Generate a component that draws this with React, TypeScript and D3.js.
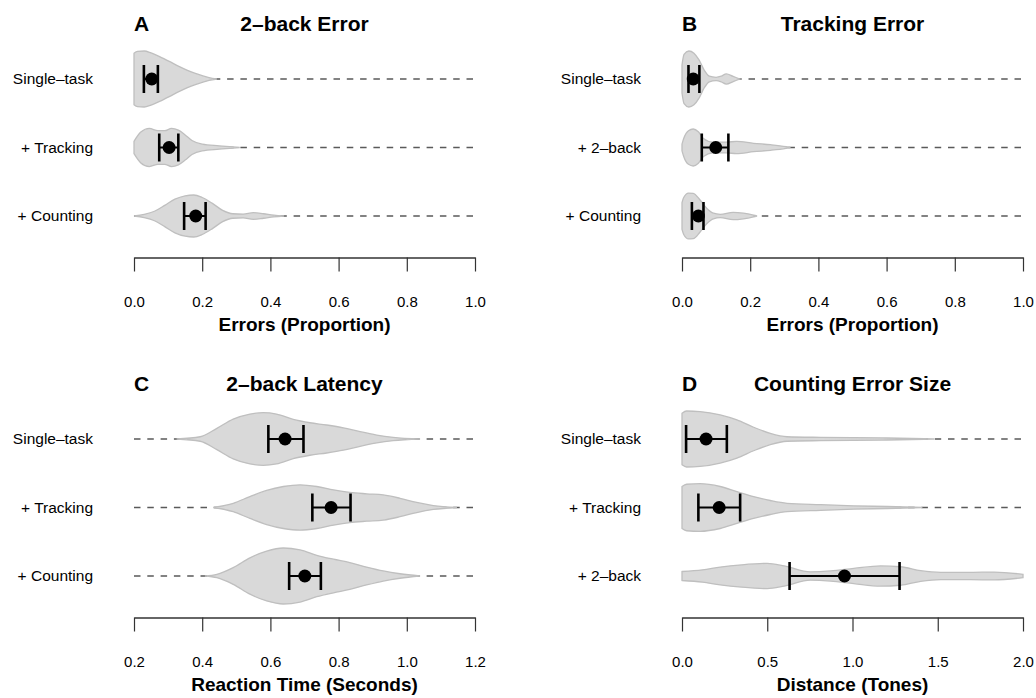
import React, { useEffect, useRef } from 'react'
import * as d3 from 'd3'

// row labels per panel
const rowsA = ['Single–task', '+ Tracking', '+ Counting']
const rowsB = ['Single–task', '+ 2–back', '+ Counting']
const rowsC = ['Single–task', '+ Tracking', '+ Counting']
const rowsD = ['Single–task', '+ Tracking', '+ 2–back']

// tick values
const ticksA = [0, 0.2, 0.4, 0.6, 0.8, 1.0]
const ticksB = [0, 0.2, 0.4, 0.6, 0.8, 1.0]
const ticksC = [0.2, 0.4, 0.6, 0.8, 1.0, 1.2]
const ticksD = [0, 0.5, 1.0, 1.5, 2.0]

// density outlines [value, relative half width]
const densA1 = [[0, 0.92], [0.01, 0.99], [0.03, 1.0], [0.05, 0.93], [0.075, 0.8], [0.105, 0.62], [0.13, 0.46], [0.155, 0.32], [0.18, 0.2], [0.2, 0.12], [0.22, 0.05], [0.243, 0]]
const densA2 = [[0, 0.22], [0.02, 0.55], [0.045, 0.68], [0.07, 0.6], [0.09, 0.6], [0.11, 0.68], [0.13, 0.62], [0.15, 0.45], [0.17, 0.25], [0.2, 0.12], [0.25, 0.06], [0.31, 0]]
const densA3 = [[0, 0], [0.03, 0.06], [0.06, 0.17], [0.09, 0.38], [0.12, 0.6], [0.15, 0.72], [0.175, 0.75], [0.2, 0.66], [0.23, 0.45], [0.26, 0.2], [0.29, 0.08], [0.32, 0.07], [0.35, 0.12], [0.38, 0.08], [0.41, 0.03], [0.44, 0]]

const densB1 = [[0, 0.5], [0.006, 0.88], [0.02, 1.0], [0.035, 0.92], [0.05, 0.68], [0.065, 0.32], [0.08, 0.1], [0.1, 0.06], [0.115, 0.1], [0.13, 0.18], [0.15, 0.09], [0.17, 0]]
const densB2 = [[0, 0.12], [0.005, 0.32], [0.019, 0.6], [0.033, 0.66], [0.048, 0.56], [0.063, 0.32], [0.09, 0.19], [0.13, 0.19], [0.16, 0.22], [0.21, 0.15], [0.26, 0.1], [0.305, 0.03], [0.318, 0]]
const densB3 = [[0, 0.48], [0.005, 0.66], [0.019, 0.82], [0.033, 0.81], [0.053, 0.57], [0.073, 0.27], [0.092, 0.1], [0.112, 0.06], [0.15, 0.13], [0.18, 0.1], [0.21, 0.03], [0.22, 0]]

const densC1 = [[0.325, 0], [0.394, 0.08], [0.443, 0.38], [0.491, 0.71], [0.54, 0.89], [0.579, 0.94], [0.618, 0.89], [0.667, 0.7], [0.716, 0.58], [0.765, 0.5], [0.814, 0.4], [0.863, 0.26], [0.912, 0.14], [0.96, 0.06], [1.039, 0]]
const densC2 = [[0.433, 0], [0.491, 0.15], [0.54, 0.39], [0.589, 0.61], [0.638, 0.75], [0.687, 0.81], [0.736, 0.75], [0.785, 0.63], [0.833, 0.54], [0.882, 0.49], [0.931, 0.45], [0.98, 0.33], [1.029, 0.18], [1.078, 0.07], [1.147, 0]]
const densC3 = [[0.408, 0], [0.443, 0.06], [0.491, 0.3], [0.54, 0.65], [0.589, 0.89], [0.638, 1.0], [0.687, 0.93], [0.736, 0.74], [0.785, 0.6], [0.833, 0.48], [0.882, 0.32], [0.931, 0.18], [0.98, 0.08], [1.039, 0]]

const densD1 = [[0, 0.92], [0.027, 1.0], [0.106, 0.98], [0.224, 0.86], [0.322, 0.68], [0.42, 0.42], [0.518, 0.2], [0.616, 0.08], [0.812, 0.06], [1.008, 0.05], [1.204, 0.035], [1.478, 0]]
const densD2 = [[0, 0.75], [0.027, 0.83], [0.106, 0.85], [0.224, 0.75], [0.322, 0.57], [0.42, 0.39], [0.518, 0.25], [0.616, 0.15], [0.812, 0.1], [1.008, 0.06], [1.204, 0.035], [1.41, 0]]
const densD3 = [[0, 0.16], [0.12, 0.22], [0.224, 0.32], [0.35, 0.4], [0.5, 0.45], [0.6, 0.36], [0.753, 0.15], [0.871, 0.18], [1.008, 0.27], [1.165, 0.36], [1.282, 0.33], [1.4, 0.19], [1.518, 0.13], [1.694, 0.13], [1.831, 0.14], [2.0, 0.06]]

// means and 95% CI
const meanA = [0.052, 0.103, 0.181]
const loA = [0.029, 0.074, 0.147]
const hiA = [0.07, 0.13, 0.21]
const meanB = [0.033, 0.099, 0.048]
const loB = [0.019, 0.058, 0.029]
const hiB = [0.051, 0.136, 0.063]
const meanC = [0.643, 0.778, 0.701]
const loC = [0.594, 0.723, 0.655]
const hiC = [0.697, 0.835, 0.748]
const meanD = [0.141, 0.218, 0.953]
const loD = [0.024, 0.096, 0.631]
const hiD = [0.263, 0.341, 1.276]

const panels = [
  { letter: 'A', title: '2–back Error', xlab: 'Errors (Proportion)', rows: rowsA, ticks: ticksA, domain: [0, 1], dens: [densA1, densA2, densA3], mean: meanA, lo: loA, hi: hiA, col: 0, row: 0 },
  { letter: 'B', title: 'Tracking Error', xlab: 'Errors (Proportion)', rows: rowsB, ticks: ticksB, domain: [0, 1], dens: [densB1, densB2, densB3], mean: meanB, lo: loB, hi: hiB, col: 1, row: 0 },
  { letter: 'C', title: '2–back Latency', xlab: 'Reaction Time (Seconds)', rows: rowsC, ticks: ticksC, domain: [0.2, 1.2], dens: [densC1, densC2, densC3], mean: meanC, lo: loC, hi: hiC, col: 0, row: 1 },
  { letter: 'D', title: 'Counting Error Size', xlab: 'Distance (Tones)', rows: rowsD, ticks: ticksD, domain: [0, 2], dens: [densD1, densD2, densD3], mean: meanD, lo: loD, hi: hiD, col: 1, row: 1 },
]

const FONT = '"Liberation Sans", Arial, Helvetica, sans-serif'

export default function App () {
  const ref = useRef<SVGSVGElement>(null)

  useEffect(() => {
    const svg = d3.select(ref.current)
    svg.selectAll('*').remove()

    const halfW = d3.scaleLinear().domain([0, 1]).range([0, 28])

    panels.forEach(p => {
      const x0 = 134 + p.col * 548
      const x1 = x0 + 341
      const top = p.row * 360

      const x = d3.scaleLinear().domain(p.domain).range([x0, x1])
      const y = d3.scalePoint().domain(p.rows).range([top + 79, top + 216])

      const g = svg.append('g')

      // titles
      g.append('text')
        .attr('x', x0).attr('y', top + 31)
        .attr('font-family', FONT).attr('font-weight', 'bold').attr('font-size', 21)
        .text(p.letter)
      g.append('text')
        .attr('x', (x0 + x1) / 2).attr('y', top + 31)
        .attr('text-anchor', 'middle')
        .attr('font-family', FONT).attr('font-weight', 'bold').attr('font-size', 21)
        .text(p.title)

      p.rows.forEach((r, i) => {
        const cy = y(r)
        // row label
        g.append('text')
          .attr('x', x0 - 41).attr('y', cy).attr('dy', '0.35em')
          .attr('text-anchor', 'end')
          .attr('font-family', FONT).attr('font-size', 15.5)
          .text(r)

        // dashed range line
        g.append('line')
          .attr('x1', x(p.domain[0])).attr('x2', x(p.domain[1]))
          .attr('y1', cy).attr('y2', cy)
          .attr('stroke', '#5a5a5a').attr('stroke-width', 1.4)
          .attr('stroke-dasharray', '6.5,6.8')

        // violin
        const area = d3.area<number[]>()
          .x(d => x(d[0]))
          .y0(d => cy - halfW(d[1]))
          .y1(d => cy + halfW(d[1]))
          .curve(d3.curveMonotoneX)
        g.append('path')
          .attr('d', area(p.dens[i]))
          .attr('fill', '#d9d9d9')
          .attr('stroke', '#bfbfbf')
          .attr('stroke-width', 1.3)

        // error bar
        g.append('line')
          .attr('x1', x(p.lo[i])).attr('x2', x(p.hi[i]))
          .attr('y1', cy).attr('y2', cy)
          .attr('stroke', 'black').attr('stroke-width', 2)
        ;[p.lo[i], p.hi[i]].forEach(v => {
          g.append('line')
            .attr('x1', x(v)).attr('x2', x(v))
            .attr('y1', cy - 14).attr('y2', cy + 14)
            .attr('stroke', 'black').attr('stroke-width', 2.6)
        })
        g.append('circle')
          .attr('cx', x(p.mean[i])).attr('cy', cy)
          .attr('r', 6.5).attr('fill', 'black')
      })

      // axis
      const fmt = d3.format('.1f')
      const axis = g.append('g')
        .attr('transform', `translate(0, ${top + 257.5})`)
        .call(d3.axisBottom(x).tickValues(p.ticks).tickFormat(d => fmt(d as number)).tickSize(14).tickSizeOuter(0).tickPadding(24.5))
      axis.select('.domain').attr('stroke', '#333').attr('stroke-width', 1.6)
      axis.selectAll('.tick line').attr('stroke', '#333').attr('stroke-width', 1.2)
      axis.selectAll('.tick text').attr('font-family', FONT).attr('font-size', 15).attr('fill', 'black')

      g.append('text')
        .attr('x', (x0 + x1) / 2).attr('y', top + 331)
        .attr('text-anchor', 'middle')
        .attr('font-family', FONT).attr('font-weight', 'bold').attr('font-size', 19)
        .text(p.xlab)
    })
  }, [])

  return (
    <svg ref={ref} width={1036} height={698}
      style={{ position: 'absolute', left: 0, top: 0, background: 'white' }} />
  )
}
